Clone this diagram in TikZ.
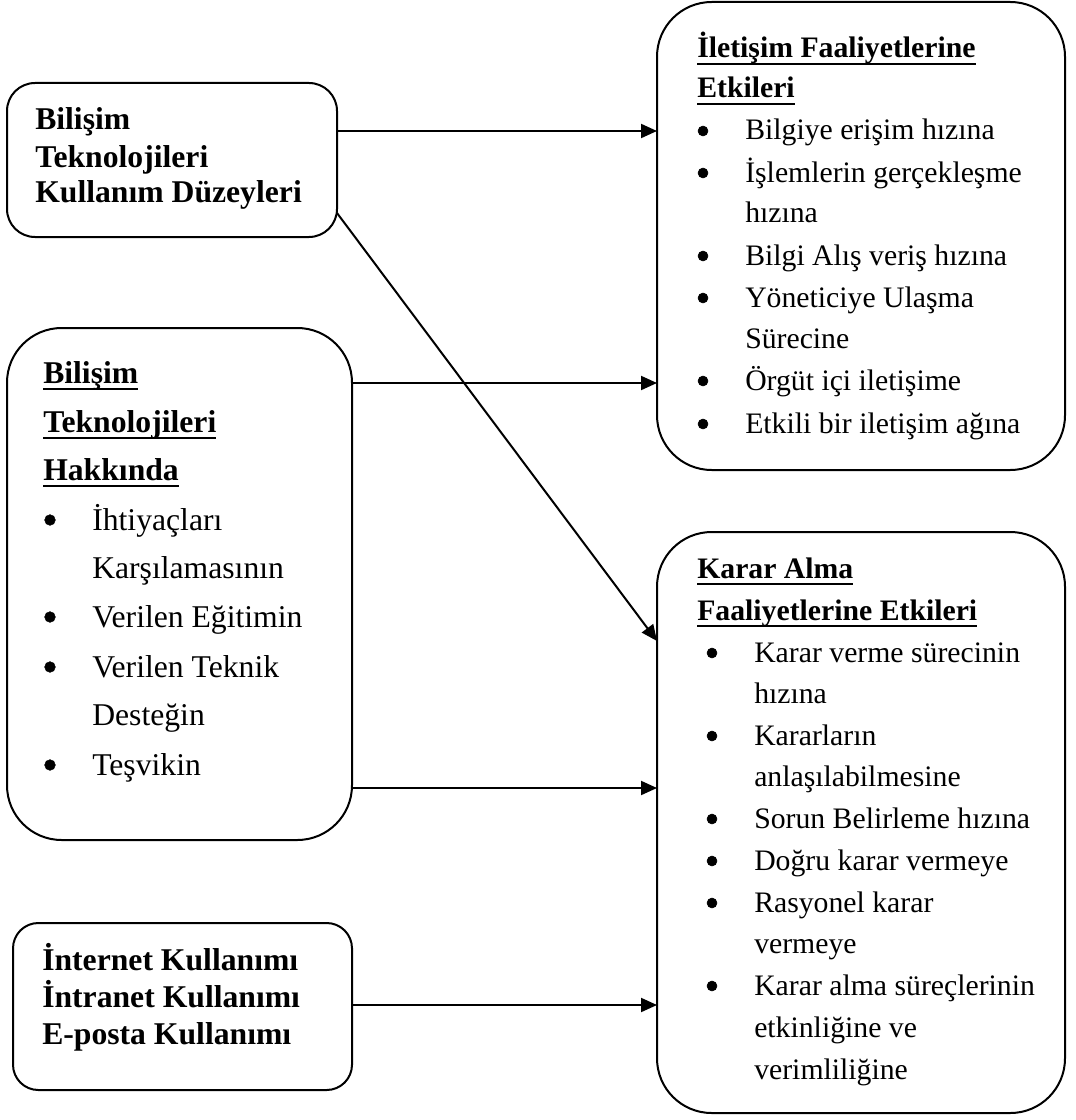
\documentclass[tikz,border=0pt]{standalone}
\usepackage{fontspec}
\setmainfont{Liberation Serif}
\usetikzlibrary{arrows.meta}
% underline at a fixed depth below the baseline, crossing descenders
\newsavebox\ulbox
\newcommand\ulword[1]{\sbox\ulbox{#1}\rlap{\rule[-5.25pt]{\wd\ulbox}{1.5pt}}\usebox\ulbox}
\begin{document}
\begin{tikzpicture}[x=0.75pt,y=-0.75pt,
  box/.style={draw,line width=1.5pt,rounded corners=#1,inner sep=0pt,outer sep=0pt},
  % type in the two right-hand frames
  txt/.style={anchor=base west,inner sep=0pt,font=\fontsize{22.3pt}{27pt}\selectfont},
  hd/.style={anchor=base west,inner sep=0pt,font=\fontsize{22.3pt}{27pt}\selectfont\bfseries},
  % larger type in the left-hand frames
  ltxt/.style={anchor=base west,inner sep=0pt,font=\fontsize{23.75pt}{28pt}\selectfont},
  lhd/.style={anchor=base west,inner sep=0pt,font=\fontsize{23.75pt}{28pt}\selectfont\bfseries},
  bul/.style={circle,fill=black,draw=black,line width=0.4pt,inner sep=0pt,minimum size=7.5pt},
  lbul/.style={bul,minimum size=8pt},
  arr/.style={line width=1.5pt,-{Triangle[length=12pt,width=10.5pt]}}]
\useasboundingbox (0,0) rectangle (1075,1120);

% frames
\node[box=21pt,minimum width=247.5pt,minimum height=115.5pt] (A) at (172,160) {};
\node[box=41pt,minimum width=306pt,minimum height=351pt] (B) at (861,236) {};
\node[box=41pt,minimum width=258.75pt,minimum height=384pt] (C) at (179.5,584) {};
\node[box=41pt,minimum width=306pt,minimum height=435.75pt] (D) at (861,822.5) {};
\node[box=19pt,minimum width=254.25pt,minimum height=125.25pt] (E) at (182.5,1006.5) {};

% usage levels
\node[lhd] (a1) at (35,130) {Bilişim};
\node[lhd] (a2) at (35,167) {Teknolojileri};
\node[lhd] (a3) at (35,202) {Kullanım Düzeyleri};

% internet / intranet / e-mail
\node[lhd] (e1) at (42,970) {İnternet Kullanımı};
\node[lhd] (e2) at (42,1007) {İntranet Kullanımı};
\node[lhd] (e3) at (42,1044) {E-posta Kullanımı};

% effects on communication
\node[hd] (b0) at (697,58) {\ulword{İletişim Faaliyetlerine}};
\node[hd] (b00) at (697,98) {\ulword{Etkileri}};
\node[bul] (bb1) at (703,131) {};
\node[txt] (b1) at (745,140) {Bilgiye erişim hızına};
\node[bul] (bb2) at (703,173) {};
\node[txt] (b2) at (745,182) {İşlemlerin gerçekleşme};
\node[txt] (b2b) at (745,222) {hızına};
\node[bul] (bb3) at (703,256) {};
\node[txt] (b3) at (745,265) {Bilgi Alış veriş hızına};
\node[bul] (bb4) at (703,298) {};
\node[txt] (b4) at (745,307) {Yöneticiye Ulaşma};
\node[txt] (b4b) at (745,348) {Sürecine};
\node[bul] (bb5) at (703,381) {};
\node[txt] (b5) at (745,390) {Örgüt içi iletişime};
\node[bul] (bb6) at (703,424) {};
\node[txt] (b6) at (745,433) {Etkili bir iletişim ağına};

% about information technologies
\node[lhd] (c0) at (43,383) {\ulword{Bilişim}};
\node[lhd] (c00) at (43,432) {\ulword{Teknolojileri}};
\node[lhd] (c000) at (43,480) {\ulword{Hakkında}};
\node[lbul] (cb1) at (50,520) {};
\node[ltxt] (c1) at (92,530) {İhtiyaçları};
\node[ltxt] (c1b) at (92,578) {Karşılamasının};
\node[lbul] (cb2) at (50,617) {};
\node[ltxt] (c2) at (92,627) {Verilen Eğitimin};
\node[lbul] (cb3) at (50,667) {};
\node[ltxt] (c3) at (92,677) {Verilen Teknik};
\node[ltxt] (c3b) at (92,725) {Desteğin};
\node[lbul] (cb4) at (50,765) {};
\node[ltxt] (c4) at (92,775) {Teşvikin};

% effects on decision making
\node[hd] (d0) at (697,578) {\ulword{Karar Alma}};
\node[hd] (d00) at (697,620) {\ulword{Faaliyetlerine Etkileri}};
\node[bul] (db1) at (712,653) {};
\node[txt] (d1) at (754,662) {Karar verme sürecinin};
\node[txt] (d1b) at (754,703) {hızına};
\node[bul] (db2) at (712,736) {};
\node[txt] (d2) at (754,745) {Kararların};
\node[txt] (d2b) at (754,786) {anlaşılabilmesine};
\node[bul] (db3) at (712,819) {};
\node[txt] (d3) at (754,828) {Sorun Belirleme hızına};
\node[bul] (db4) at (712,861) {};
\node[txt] (d4) at (754,870) {Doğru karar vermeye};
\node[bul] (db5) at (712,903) {};
\node[txt] (d5) at (754,912) {Rasyonel karar};
\node[txt] (d5b) at (754,953) {vermeye};
\node[bul] (db6) at (712,986) {};
\node[txt] (d6) at (754,995) {Karar alma süreçlerinin};
\node[txt] (d6b) at (754,1037) {etkinliğine ve};
\node[txt] (d6c) at (754,1079) {verimliliğine};

% connectors
\draw[arr] (A.east |- 0,131) -- (B.west |- 0,131);
\draw[arr] (A.east |- 0,213) -- (D.west |- 0,641);
\draw[arr] (C.east |- 0,383) -- (B.west |- 0,383);
\draw[arr] (C.east |- 0,788) -- (D.west |- 0,788);
\draw[arr] (E.east |- 0,1005) -- (D.west |- 0,1005);
\end{tikzpicture}
\end{document}
